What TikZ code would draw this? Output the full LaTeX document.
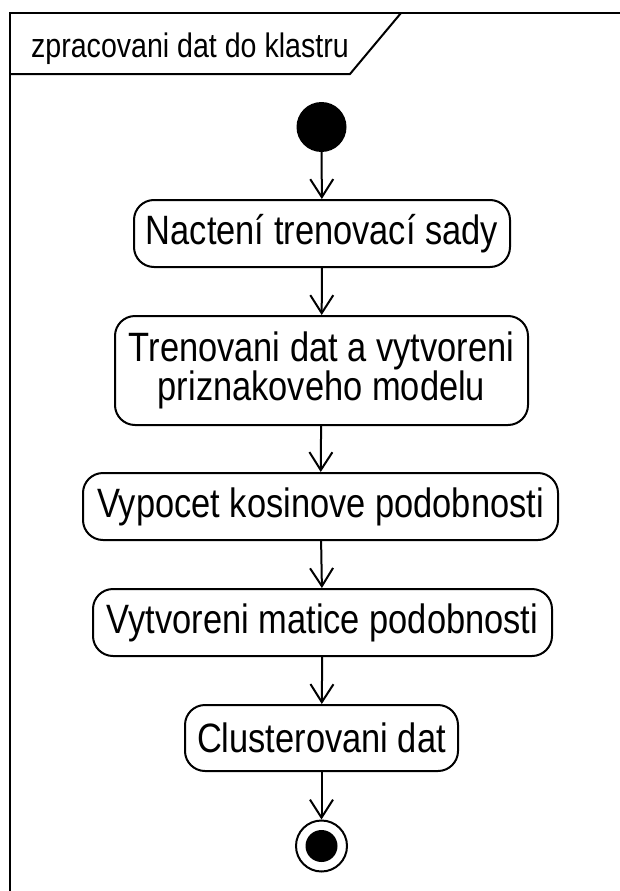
\documentclass[tikz,border=0pt]{standalone}
\usepackage{fontspec}
\usetikzlibrary{arrows.meta}
\newfontfamily\actfont[FakeStretch=0.84]{Liberation Sans}
\begin{document}
\begin{tikzpicture}[x=1pt,y=-1pt,
  action/.style={draw,line width=2pt,rounded corners=20pt,inner sep=0pt,
    align=center,font=\actfont\fontsize{41}{36}\selectfont},
  flow/.style={line width=2pt,-{Straight Barb[length=18pt,width=23pt,line width=2pt]}},
  frameline/.style={line width=2.5pt}]
\useasboundingbox (0,0) rectangle (619,891);
% activity frame with its name tab
\draw[frameline] (10,900) -- (10,13) -- (630,13);
\draw[line width=2pt] (10,74) -- (350,74) -- (401,13);
\node[anchor=base west,inner sep=0pt,font=\actfont\fontsize{34}{36}\selectfont]
  (title) at (31,57) {zpracovani dat do klastru};
% initial node
\node[circle,fill=black,minimum size=50pt,inner sep=0pt] (start) at (321.5,127) {};
% actions
\node[action,minimum width=376pt,minimum height=67pt] (a1) at (322,233.5) {Nactení trenovací sady};
\node[action,minimum width=413pt,minimum height=109pt] (a2) at (321.5,370.5) {Trenovani dat a vytvoreni\\priznakoveho modelu};
\node[action,minimum width=475pt,minimum height=67pt] (a3) at (320.5,506.5) {Vypocet kosinove podobnosti};
\node[action,minimum width=459pt,minimum height=67pt] (a4) at (322.5,622.5) {Vytvoreni matice podobnosti};
\node[action,minimum width=273pt,minimum height=66pt] (a5) at (321.5,738) {Clusterovani dat};
% final node
\node[circle,draw,line width=2pt,minimum size=51pt,inner sep=0pt] (stop) at (321.5,846) {};
\node[circle,fill=black,minimum size=32pt,inner sep=0pt] at (stop) {};
% control flows
\draw[flow] (start) -- (a1);
\draw[flow] (a1) -- (a2);
\draw[flow] (a2) -- (a3);
\draw[flow] (a3) -- (a4);
\draw[flow] (a4) -- (a5);
\draw[flow] (a5) -- (stop);
\end{tikzpicture}
\end{document}
